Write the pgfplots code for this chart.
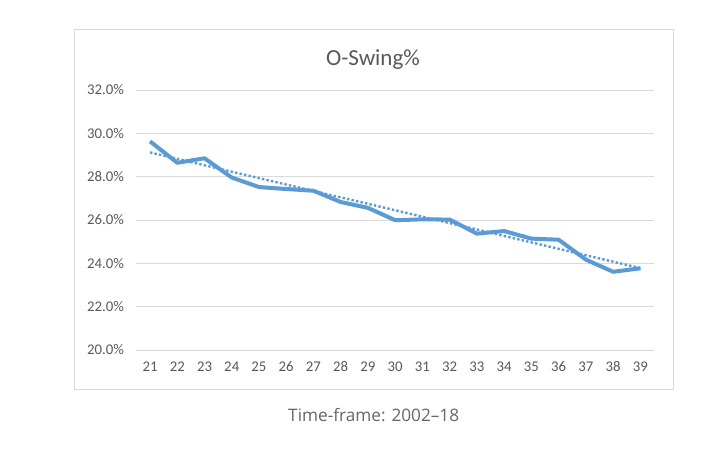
\documentclass[border=0pt]{standalone}
\usepackage{fontspec}
\setmainfont{Carlito}
\newfontfamily\capfont{Open Sans}
\usepackage{pgfplots}
\pgfplotsset{compat=1.18}
\definecolor{lineblue}{HTML}{5B9BD5}
\definecolor{txtgrey}{HTML}{595959}
\definecolor{gridgrey}{HTML}{D9D9D9}
\definecolor{capgrey}{HTML}{666666}
\begin{document}
\begin{tikzpicture}[x=1pt,y=1pt]
\path[use as bounding box,fill=white] (0,0) rectangle (719,448);
\draw[gridgrey,line width=1pt] (74.7,59) rectangle (673.3,418.7);
\begin{axis}[
  at={(136.4pt,98pt)}, anchor=south west,
  scale only axis, width=517.6pt, height=260pt,
  xmin=20.5, xmax=39.5, ymin=20, ymax=32,
  axis line style={draw=none},
  ytick={20,22,...,32},
  xtick={21,...,39},
  ymajorgrids, grid style={gridgrey,line width=1pt},
  major tick length=0pt,
  tick label style={font=\fontsize{14.8}{16}\selectfont, text=txtgrey},
  /pgf/number format/assume math mode=true,
  yticklabel={\pgfmathprintnumber[fixed,fixed zerofill,precision=1]{\tick}\%},
  yticklabel style={xshift=-9pt},
  xticklabel style={yshift=-8pt},
  clip=false,
]
\addplot[lineblue, line width=2.4pt, dash pattern=on 2.4pt off 2.2pt] coordinates {
 (21,29.12) (39,23.78)
};
\addplot[lineblue, line width=4pt, line join=round] coordinates {
 (21,29.63) (22,28.64) (23,28.85) (24,27.96) (25,27.52) (26,27.43)
 (27,27.35) (28,26.83) (29,26.56) (30,25.99) (31,26.03) (32,26.02)
 (33,25.37) (34,25.49) (35,25.14) (36,25.09) (37,24.17) (38,23.61)
 (39,23.77)
};
\end{axis}
\node[anchor=base, text=txtgrey, font=\fontsize{23}{26}\selectfont] at (373,382) {O-Swing\%};
\node[anchor=base, text=capgrey, font=\capfont\fontsize{17.2}{20}\selectfont] at (373.7,26.3) {Time-frame: 2002–18};
\end{tikzpicture}
\end{document}
